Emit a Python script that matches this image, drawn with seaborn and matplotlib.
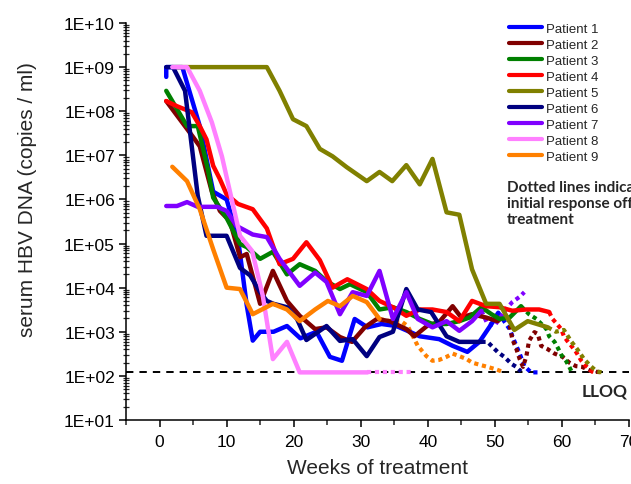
import numpy as np
import pandas as pd
import matplotlib
matplotlib.use("Agg")
import matplotlib.pyplot as plt
from matplotlib.ticker import FixedLocator, LogLocator, MultipleLocator, FuncFormatter, NullFormatter
import seaborn as sns

# ---- serum HBV DNA (copies/ml) by week: on treatment (solid) and off treatment (dotted) ----
patients = ["Patient 1", "Patient 2", "Patient 3", "Patient 4", "Patient 5",
            "Patient 6", "Patient 7", "Patient 8", "Patient 9"]
colors = ["#0000FF", "#800000", "#008000", "#FF0000", "#808000",
          "#000080", "#8000FF", "#FF80FF", "#FF8000"]

lloq = 1.2e2

weeks_p1 = [1, 1, 3.4, 4.5, 6, 8, 10, 11.7, 13, 13.9, 15, 17, 19, 21, 23.4, 25.4, 27.2, 29.1, 31, 33.1,
            35.3, 37.3, 38.8, 41.7, 43.7, 45.9, 47.7, 49.5, 50.5]
dna_p1 = [6.0e8, 1e9, 1e9, 2.7e8, 4.6e7, 1.5e6, 1.0e6, 1.3e5, 4.0e3, 6.3e2, 1.0e3, 1.0e3, 1.35e3, 7.1e2,
          1.0e3, 2.7e2, 2.2e2, 1.95e3, 1.26e3, 1.5e3, 1.35e3, 1.0e3, 7.9e2, 6.8e2, 4.8e2, 3.5e2, 5.9e2,
          1.5e3, 2.7e3]
off_weeks_p1 = [50.5, 52.2, 52.9, 53.7, 54.4, 55.4, 56.6]
off_dna_p1 = [2.7e3, 1.15e3, 6.2e2, 3.2e2, 1.66e2, 1.2e2, 1.2e2]

weeks_p2 = [1, 5, 6, 7.8, 9, 10.5, 12, 13, 15, 16.9, 19, 20.9, 23.2, 24.9, 26.9, 28.7, 30.6, 32.4, 34.3,
            36.8, 38, 40, 41.7, 43.7, 45, 46.6, 48.7, 50.4]
dna_p2 = [1.7e8, 2.6e7, 1.6e7, 1.5e6, 5.5e5, 3.2e5, 4.9e4, 5.8e4, 4.3e3, 2.4e4, 5.0e3, 2.3e3, 1.15e3,
          1.26e3, 7.6e2, 5.9e2, 1.26e3, 1.95e3, 1.74e3, 1.15e3, 7.9e2, 1.4e3, 1.66e3, 3.8e3, 2.1e3,
          2.5e3, 2.1e3, 1.74e3]
off_weeks_p2 = [50.4, 51.9, 52.6, 53.2, 53.7, 54.2, 54.7, 55.1, 55.9, 56.4, 56.9, 57.8, 58.9, 60.1,
                61.1, 62.1, 63, 64.5, 66]
off_dna_p2 = [1.74e3, 2.5e3, 6.8e2, 4.1e2, 2.4e2, 1.6e2, 2.8e2, 6.2e2, 9.8e2, 8.9e2, 4.8e2, 4.1e2,
              3.2e2, 2.7e2, 2.0e2, 1.66e2, 1.6e2, 1.26e2, 1.2e2]

weeks_p3 = [1, 4.1, 5.7, 7.2, 8, 10, 12, 13, 15, 16.9, 19, 20.9, 23.2, 24.9, 26.9, 28.4, 30.9, 32.8,
            34.8, 36.8, 38.8, 40.7, 42.8, 44.7, 46.2, 48, 49.5, 50.7, 52.2, 53.9]
dna_p3 = [2.9e8, 4.6e7, 4.6e7, 4.9e6, 1.1e6, 3.8e5, 9.8e4, 8.3e4, 4.5e4, 6.5e4, 2.0e4, 3.4e4, 2.4e4,
          1.4e4, 9.3e3, 1.2e4, 7.9e3, 3.2e3, 3.6e3, 2.8e3, 1.95e3, 1.5e3, 1.5e3, 1.74e3, 2.1e3, 3.6e3,
          2.5e3, 1.95e3, 2.1e3, 3.8e3]
off_weeks_p3 = [53.9, 55.1, 56.2, 57.7, 58.1, 58.9, 59.4, 59.9, 60.6, 61.1, 61.5]
off_dna_p3 = [3.8e3, 2.5e3, 1.95e3, 1.15e3, 7.9e2, 5.9e2, 4.3e2, 3.0e2, 2.2e2, 1.6e2, 1.2e2]

weeks_p4 = [1, 2.6, 4.8, 6, 7, 8, 9, 10, 11.7, 13.9, 16, 17.9, 19.9, 21.9, 23.9, 25.8, 28, 30.9, 32.8,
            34.8, 36.8, 38.8, 40.7, 42.8, 44.7, 46.6, 48.7, 50.7, 52.6, 54.7, 56.6, 58.1]
dna_p4 = [1.7e8, 1.3e8, 9.5e7, 4.6e7, 2.3e7, 5.8e6, 2.9e6, 1.3e6, 7.9e5, 6.0e5, 2.2e5, 3.4e4, 4.5e4,
          1.07e5, 4.2e4, 1.0e4, 1.55e4, 9.3e3, 5.0e3, 3.6e3, 2.3e3, 3.2e3, 3.2e3, 2.8e3, 1.74e3,
          5.0e3, 3.8e3, 3.6e3, 3.0e3, 3.2e3, 3.2e3, 2.8e3]
off_weeks_p4 = [58.1, 58.6, 59.1, 59.9, 60.3, 60.8, 61.4, 62.1, 62.9, 63.6, 64.5, 65]
off_dna_p4 = [2.8e3, 1.95e3, 1.6e3, 1.15e3, 7.9e2, 6.2e2, 4.8e2, 3.5e2, 2.2e2, 1.66e2, 1.26e2, 1.2e2]

weeks_p5 = [2, 16, 17.9, 19.9, 21.9, 23.9, 25.8, 27.9, 30.9, 32.8, 34.7, 36.8, 38.8, 40.7, 42.8, 44.7,
            46.6, 48.7, 50.7, 52.9, 54.9, 57.9]
dna_p5 = [1e9, 1e9, 2.9e8, 6.6e7, 4.6e7, 1.4e7, 9.5e6, 5.4e6, 2.6e6, 4.2e6, 2.6e6, 6.0e6, 2.2e6,
          8.3e6, 5.1e5, 4.5e5, 2.6e4, 4.3e3, 4.3e3, 1.1e3, 1.74e3, 1.26e3]
off_weeks_p5 = [57.9, 59.1, 60.3, 61.4, 62.3, 63.3, 64.3, 65.2, 66]
off_dna_p5 = [1.26e3, 1.0e3, 1.1e3, 6.0e2, 4.0e2, 2.4e2, 1.66e2, 1.26e2, 1.2e2]

weeks_p6 = [1, 2, 3.8, 5.7, 7, 10, 12, 13.5, 15, 16, 17, 19, 20.5, 21.9, 24.9, 26.9, 28.8, 30.9, 32.8,
            34.8, 36.8, 38.5, 40.5, 42.8, 44.7, 48]
dna_p6 = [1e9, 1e9, 2.9e8, 1.2e6, 1.5e5, 1.5e5, 2.8e4, 1.9e4, 7.9e3, 5.0e3, 4.3e3, 3.6e3, 1.95e3,
          6.5e2, 1.35e3, 6.2e2, 6.8e2, 2.8e2, 7.6e2, 1.0e3, 9.3e3, 3.2e3, 2.8e3, 7.9e2, 5.9e2, 5.9e2]
off_weeks_p6 = [48, 48.9, 50.4, 51.4, 52.5, 53.2, 53.9]
off_dna_p6 = [5.9e2, 5.9e2, 3.5e2, 2.7e2, 1.86e2, 1.6e2, 1.26e2]

weeks_p7 = [1, 2.6, 4.1, 5.7, 8.6, 10, 11.5, 13.9, 16, 17.9, 20.9, 23.2, 24.9, 26.9, 28.8, 30.9, 32.8,
            34.8, 36.8, 38.5, 40.7, 42.8, 44.7, 46.6, 48]
dna_p7 = [7.1e5, 7.1e5, 8.7e5, 6.8e5, 6.8e5, 5.5e5, 2.5e5, 1.6e5, 1.4e5, 4.5e4, 1.1e4, 2.2e4, 1.35e4,
          2.5e3, 7.9e3, 6.5e3, 2.4e4, 1.95e3, 7.9e3, 1.95e3, 1.26e3, 1.74e3, 1.05e3, 1.74e3, 3.0e3]
off_weeks_p7 = [48, 48.9, 50, 51.1, 51.9, 52.6, 53.7, 54.4]
off_dna_p7 = [3.0e3, 1.5e3, 1.4e3, 2.5e3, 3.6e3, 4.7e3, 6.2e3, 7.9e3]

weeks_p8 = [1.9, 4.1, 6, 7.8, 9.3, 10.5, 12, 13.8, 15.4, 16.9, 19, 20.9, 31]
dna_p8 = [1e9, 1e9, 2.9e8, 5.6e7, 9.5e6, 1.5e6, 1.5e5, 6.8e4, 6.5e3, 2.4e2, 5.9e2, 1.2e2, 1.2e2]
off_weeks_p8 = [31, 38]
off_dna_p8 = [1.2e2, 1.2e2]

weeks_p9 = [1.9, 4.1, 6, 8, 10, 12, 13.9, 16.9, 19, 20.9, 23.2, 25.1, 26.9, 28.8, 30.9, 32.8]
dna_p9 = [5.5e6, 2.6e6, 6.0e5, 7.4e4, 1.0e4, 9.3e3, 2.5e3, 4.3e3, 3.2e3, 1.74e3, 3.2e3, 5.0e3, 3.8e3,
          6.5e3, 4.7e3, 1.95e3]
off_weeks_p9 = [32.8, 34.3, 36, 37, 38, 38.5, 39.8, 40.7, 41.7, 42.8, 43.7, 44.7, 45.8, 46.6, 48, 48.9,
                50.2, 51.4]
off_dna_p9 = [1.95e3, 1.74e3, 1.74e3, 1.35e3, 6.8e2, 4.8e2, 2.8e2, 2.2e2, 2.3e2, 2.7e2, 3.2e2, 2.8e2,
              2.4e2, 2.0e2, 1.74e2, 1.6e2, 1.4e2, 1.2e2]

x_ticks = [0, 10, 20, 30, 40, 50, 60, 70]

on_series = [(weeks_p1, dna_p1), (weeks_p2, dna_p2), (weeks_p3, dna_p3), (weeks_p4, dna_p4),
             (weeks_p5, dna_p5), (weeks_p6, dna_p6), (weeks_p7, dna_p7), (weeks_p8, dna_p8),
             (weeks_p9, dna_p9)]
off_series = [(off_weeks_p1, off_dna_p1), (off_weeks_p2, off_dna_p2), (off_weeks_p3, off_dna_p3),
              (off_weeks_p4, off_dna_p4), (off_weeks_p5, off_dna_p5), (off_weeks_p6, off_dna_p6),
              (off_weeks_p7, off_dna_p7), (off_weeks_p8, off_dna_p8), (off_weeks_p9, off_dna_p9)]


def long_form(series):
    frames = []
    for name, (w, v) in zip(patients, series):
        frames.append(pd.DataFrame({"week": w, "dna": v, "patient": name}))
    return pd.concat(frames, ignore_index=True)


on_df = long_form(on_series)
off_df = long_form(off_series)

sns.set_style("ticks")
plt.rcParams["font.family"] = ["Liberation Sans", "DejaVu Sans"]

fig = plt.figure(figsize=(6.31, 4.85), dpi=100)
ax = fig.add_axes([0.1997, 0.132, 0.7971, 0.8185])
ax.set_yscale("log")

# LLOQ reference line underneath the patient curves
ax.axhline(lloq, color="black", lw=1.4, linestyle=(0, (3.8, 3.1)), zorder=1)

sns.lineplot(data=off_df, x="week", y="dna", hue="patient", hue_order=patients, palette=colors,
             estimator=None, sort=False, lw=3.0, linestyle=(0, (1, 0.9)), legend=False, ax=ax,
             zorder=2)
sns.lineplot(data=on_df, x="week", y="dna", hue="patient", hue_order=patients, palette=colors,
             estimator=None, sort=False, lw=3.2, ax=ax, zorder=3)

ax.set_xlim(-5, 70)
ax.set_ylim(10, 1e10)

ax.xaxis.set_major_locator(FixedLocator(x_ticks))
ax.xaxis.set_minor_locator(MultipleLocator(5))
ax.yaxis.set_major_locator(LogLocator(base=10, numticks=20))
ax.yaxis.set_minor_locator(LogLocator(base=10, subs=np.arange(2, 10), numticks=20))
ax.yaxis.set_major_formatter(FuncFormatter(lambda v, p: "1E+%02d" % int(round(np.log10(v)))))
ax.yaxis.set_minor_formatter(NullFormatter())

ax.tick_params(axis="both", which="major", direction="out", length=5, width=1.1,
               labelsize=12.5, colors="black", pad=3)
ax.tick_params(axis="x", which="major", pad=5)
ax.tick_params(axis="y", which="minor", direction="inout", length=4, width=0.9)
ax.tick_params(axis="x", which="minor", direction="out", length=3.5, width=1.1)

for side in ("top", "right"):
    ax.spines[side].set_visible(False)
for side in ("left", "bottom"):
    ax.spines[side].set_linewidth(1.1)
    ax.spines[side].set_color("black")

ax.set_xlabel("Weeks of treatment", fontsize=15)
ax.set_ylabel("serum HBV DNA (copies / ml)", fontsize=15)
ax.xaxis.set_label_coords(0.5, -0.097)
ax.yaxis.set_label_coords(-0.176, 0.557)

leg = ax.legend(loc="upper left", bbox_to_anchor=(0.807, 0.952), bbox_transform=fig.transFigure,
                frameon=False, fontsize=9.5, handlelength=2.5, handletextpad=0.3,
                labelspacing=0.29, borderpad=0, borderaxespad=0, title=None)
for line in leg.get_lines():
    line.set_linewidth(3.0)

fig.text(0.803, 0.627, "Dotted lines indicate\ninitial response off\ntreatment",
         fontsize=11, fontweight="bold", family=["Lato", "DejaVu Sans"], va="top", ha="left",
         linespacing=1.2)
fig.text(0.922, 0.192, "LLOQ", fontsize=12.5, fontweight="bold", family=["Lato", "DejaVu Sans"],
         va="center", ha="left")

fig.savefig("out.png", dpi=100)
